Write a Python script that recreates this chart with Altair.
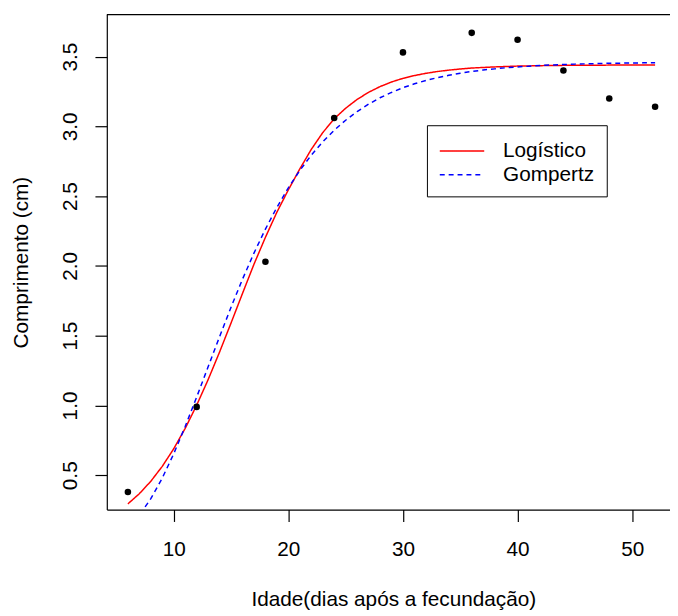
import altair as alt
import pandas as pd

# observed data
dias = [6, 12, 18, 24, 30, 36, 40, 44, 48, 52]
comprimento = [0.38, 0.99, 2.03, 3.06, 3.53, 3.67, 3.62, 3.40, 3.20, 3.14]

# fitted curves
curva_x = list(range(6, 53))
logistico = [0.295, 0.368, 0.457, 0.564, 0.690, 0.836, 1.002, 1.185, 1.383, 1.591,
             1.803, 2.012, 2.205, 2.385, 2.545, 2.695, 2.835, 2.955, 3.054, 3.130,
             3.193, 3.244, 3.285, 3.318, 3.344, 3.364, 3.380, 3.393, 3.403, 3.411,
             3.418, 3.422, 3.426, 3.429, 3.432, 3.433, 3.435, 3.436, 3.437, 3.438,
             3.438, 3.438, 3.439, 3.439, 3.439, 3.440, 3.440]
gompertz = [0.128, 0.214, 0.332, 0.480, 0.654, 0.850, 1.060, 1.277, 1.493, 1.704,
            1.905, 2.092, 2.264, 2.420, 2.560, 2.684, 2.794, 2.889, 2.972, 3.044,
            3.106, 3.159, 3.205, 3.243, 3.277, 3.305, 3.329, 3.349, 3.366, 3.381,
            3.393, 3.404, 3.412, 3.420, 3.426, 3.431, 3.436, 3.440, 3.443, 3.446,
            3.448, 3.450, 3.452, 3.453, 3.454, 3.455, 3.456]

modelos = ["Logístico", "Gompertz"]
cores = ["#FF0000", "#0000FF"]
tracos = [[1, 0], [5, 4]]
x_ticks = [10, 20, 30, 40, 50]
y_ticks = [0.5, 1.0, 1.5, 2.0, 2.5, 3.0, 3.5]

pts = pd.DataFrame({"dia": dias, "comp": comprimento})
linhas = pd.concat([
    pd.DataFrame({"dia": curva_x, "comp": logistico, "modelo": modelos[0]}),
    pd.DataFrame({"dia": curva_x, "comp": gompertz, "modelo": modelos[1]}),
])

W, H = 570, 501
FONT = "Liberation Sans"
FS = 21

x_enc = alt.X("dia:Q",
              scale=alt.Scale(domain=[4.16, 53.3], nice=False, zero=False),
              axis=alt.Axis(values=x_ticks, title="Idade(dias após a fecundação)",
                            format="d", grid=False, tickSize=12, labelPadding=34,
                            labelBaseline="alphabetic", labelFlush=False,
                            titleX=290, titleY=97, titleBaseline="alphabetic",
                            titleAnchor="middle"))
y_enc = alt.Y("comp:Q",
              scale=alt.Scale(domain=[0.254, 3.801], nice=False, zero=False),
              axis=alt.Axis(values=y_ticks, title="Comprimento (cm)", format=".1f",
                            grid=False, tickSize=12, labelAngle=270, labelAlign="center",
                            labelBaseline="alphabetic", labelPadding=19, labelFlush=False,
                            titleAngle=270, titleX=-80, titleY=H / 2,
                            titleBaseline="alphabetic", titleAnchor="middle"))

lines = alt.Chart(linhas).mark_line(strokeWidth=1.5, clip=True).encode(
    x=x_enc, y=y_enc,
    color=alt.Color("modelo:N", scale=alt.Scale(domain=modelos, range=cores),
                    sort=modelos, legend=alt.Legend(title=None)),
    strokeDash=alt.StrokeDash("modelo:N", scale=alt.Scale(domain=modelos, range=tracos),
                              sort=modelos, legend=alt.Legend(title=None)),
)

points = alt.Chart(pts).mark_circle(size=44, color="black", opacity=1).encode(
    x=x_enc, y=y_enc)

top = alt.Chart(pd.DataFrame({"k": [0]})).mark_rule(color="black", strokeWidth=1.2).encode(
    x=alt.value(0), x2=alt.value(W), y=alt.value(0))

chart = alt.layer(lines, points, top).properties(
    width=W, height=H,
    autosize=alt.AutoSizeParams(type="none"),
    padding={"left": 100, "top": 3, "right": 0, "bottom": 101},
).configure_view(stroke=None).configure_axis(
    domainColor="black", domainWidth=1.2, tickColor="black", tickWidth=1.2,
    labelColor="black", titleColor="black", labelFont=FONT, titleFont=FONT,
    labelFontSize=FS, titleFontSize=FS, titleFontWeight="normal",
).configure_legend(
    orient="none", legendX=324, legendY=112, padding=12,
    strokeColor="black", fillColor="white", cornerRadius=0,
    labelFont=FONT, labelFontSize=FS, labelColor="black", labelOffset=37,
    symbolType="M-1,0L2.46,0", symbolSize=676, symbolStrokeWidth=1.5,
    rowPadding=0, labelLimit=300,
)

chart.save("out.html", embed_options={"renderer": "svg", "actions": False})
